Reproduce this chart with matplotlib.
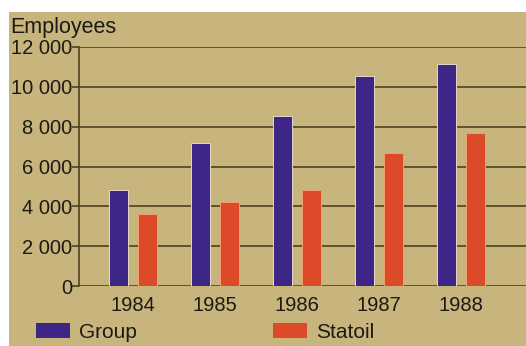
import matplotlib.pyplot as plt
from matplotlib.patches import Patch, Rectangle
import numpy as np

plt.rcParams['font.family'] = ['Liberation Sans', 'DejaVu Sans']

years = ["1984", "1985", "1986", "1987", "1988"]
group = [4800, 7200, 8550, 10550, 11150]
statoil = [3600, 4200, 4800, 6700, 7700]
yticks = [0, 2000, 4000, 6000, 8000, 10000, 12000]
ytick_labels = ["0", "2 000", "4 000", "6 000", "8 000", "10 000", "12 000"]

bg = "#c8b47d"
purple = "#3d2686"
orange = "#dd4a29"
line_col = "#4a4220"

W, H = 526, 346
fig = plt.figure(figsize=(W / 100, H / 100), dpi=100)
fig.patch.set_facecolor("white")
# tan card behind the chart
card = Rectangle((9 / W, 0), 1 - 9 / W, 1 - 12 / H,
                 transform=fig.transFigure, facecolor=bg,
                 edgecolor="none", zorder=-10)
fig.add_artist(card)

ax = fig.add_axes([79 / W, 60 / H, 1 - 79 / W, (286 - 47) / H])
ax.set_facecolor("none")
ax.set_zorder(1)

x = np.arange(len(years))
w = 0.23
off = 0.177
ax.bar(x - off, group, width=w, color=purple, edgecolor="#e6d8c8",
       linewidth=0.7, zorder=3)
ax.bar(x + off, statoil, width=w, color=orange, edgecolor="#f0a070",
       linewidth=0.7, zorder=3)

ax.set_ylim(0, 12000)
ax.set_xlim(-0.66, len(years) - 1 + 0.79)
ax.set_yticks(yticks)
ax.set_yticklabels(ytick_labels)
ax.set_xticks(x)
ax.set_xticklabels(years)
ax.yaxis.grid(True, color=line_col, linewidth=1.2, zorder=1)
ax.set_axisbelow(True)
ax.tick_params(axis="y", length=5, width=1.2, color=line_col, pad=0,
               labelsize=14.5, labelcolor="#1c1a12")
ax.tick_params(axis="x", length=0, pad=7, labelsize=14.5,
               labelcolor="#1c1a12")
for side in ["top", "right", "bottom"]:
    ax.spines[side].set_visible(False)
ax.spines["left"].set_color(line_col)
ax.spines["left"].set_linewidth(1.2)

fig.text(10 / W, 1 - 27 / H, "Employees", fontsize=15.5, color="#1c1a12",
         va="center", ha="left")

for label, col, xpos in [("Group", purple, 36), ("Statoil", orange, 273)]:
    fig.legend(handles=[Patch(facecolor=col, edgecolor="none", label=label)],
               loc="center left", bbox_to_anchor=(xpos / W, 1 - 332 / H),
               frameon=False, fontsize=15, borderpad=0, borderaxespad=0,
               handlelength=1.65, handleheight=0.7, handletextpad=0.4,
               labelcolor="#1c1a12")

fig.savefig("out.png", dpi=100)
